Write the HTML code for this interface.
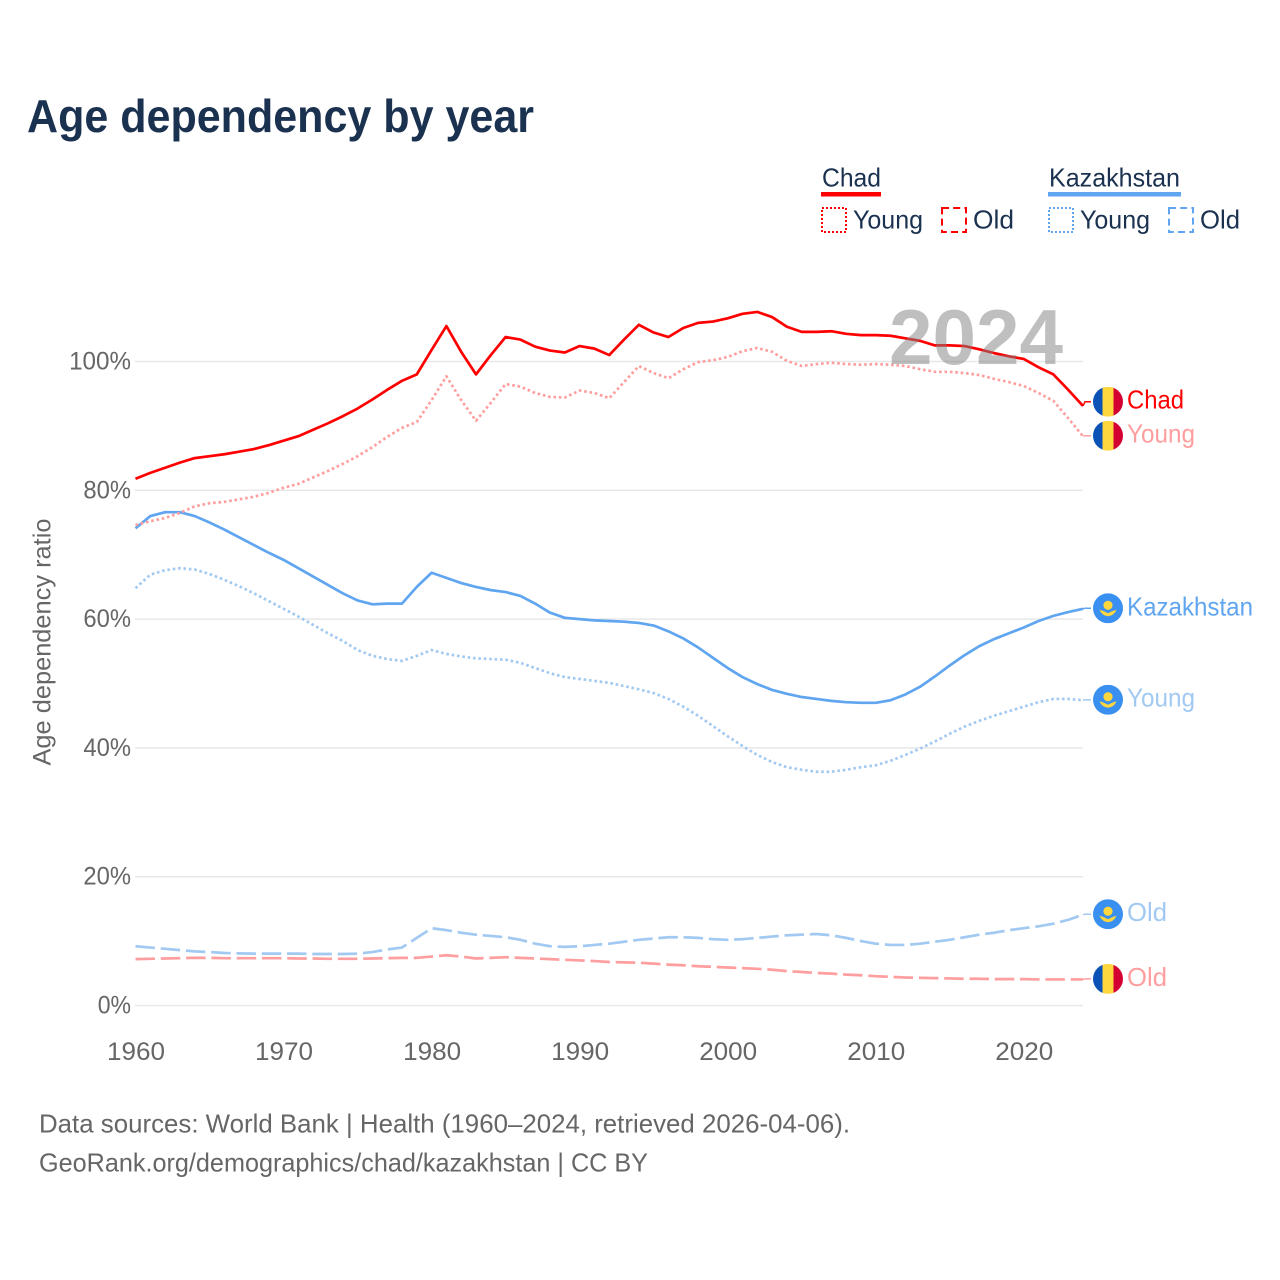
<!DOCTYPE html>
<html lang="en">
<head>
<meta charset="utf-8">
<title>Age dependency by year</title>
<style>
html,body{margin:0;padding:0;background:#fff;}
svg{display:block;}
text{font-family:"Liberation Sans",sans-serif;}
</style>
</head>
<body>
<svg id="chart" width="1280" height="1280" viewBox="0 0 1280 1280" xmlns="http://www.w3.org/2000/svg">
  <rect width="1280" height="1280" fill="#fff"/>
  <text x="27" y="132" font-size="46" font-weight="700" fill="#1a3150" textLength="507" lengthAdjust="spacingAndGlyphs">Age dependency by year</text>

  <g font-size="26" fill="#1a3150">
    <text x="822" y="186.5" textLength="59" lengthAdjust="spacingAndGlyphs">Chad</text>
    <rect x="821" y="192" width="60" height="4.5" fill="#ff0000"/>
    <rect x="822" y="208" width="24" height="24" fill="none" stroke="#ff0000" stroke-width="2" stroke-dasharray="2 2"/>
    <text x="853" y="228.5" textLength="70" lengthAdjust="spacingAndGlyphs">Young</text>
    <rect x="942" y="208" width="24" height="24" fill="none" stroke="#ff0000" stroke-width="2" stroke-dasharray="7 4.2"/>
    <text x="973" y="228.5" textLength="41" lengthAdjust="spacingAndGlyphs">Old</text>

    <text x="1049" y="186.5" textLength="131" lengthAdjust="spacingAndGlyphs">Kazakhstan</text>
    <rect x="1048" y="192" width="133" height="4.5" fill="#60a5f0"/>
    <rect x="1049" y="208" width="24" height="24" fill="none" stroke="#60a5f0" stroke-width="2" stroke-dasharray="2 2"/>
    <text x="1080" y="228.5" textLength="70" lengthAdjust="spacingAndGlyphs">Young</text>
    <rect x="1169" y="208" width="24" height="24" fill="none" stroke="#60a5f0" stroke-width="2" stroke-dasharray="7 4.2"/>
    <text x="1200" y="228.5" textLength="40" lengthAdjust="spacingAndGlyphs">Old</text>
  </g>

  <g id="grid"></g>
  <g id="yticks"></g>
  <g id="xticks"></g>
  <text transform="translate(50.5 642) rotate(-90)" text-anchor="middle" font-size="25" fill="#666" textLength="247" lengthAdjust="spacingAndGlyphs">Age dependency ratio</text>

  <g id="lines"></g>
  <g id="labels"></g>

  <text id="year" x="889" y="364" font-size="78" font-weight="700" fill="#808080" opacity="0.5" textLength="174" lengthAdjust="spacingAndGlyphs">2024</text>

  <g font-size="26" fill="#666">
    <text x="39" y="1132.5" textLength="811" lengthAdjust="spacingAndGlyphs">Data sources: World Bank | Health (1960–2024, retrieved 2026-04-06).</text>
    <text x="39" y="1171.5" textLength="609" lengthAdjust="spacingAndGlyphs">GeoRank.org/demographics/chad/kazakhstan | CC BY</text>
  </g>
</svg>
<script>
const startYear = 1960;
const endYear = 2024;
const xTickYears = [1960, 1970, 1980, 1990, 2000, 2010, 2020];
const yTickValues = [0, 20, 40, 60, 80, 100];

const chadTotal = [81.8,82.7,83.5,84.3,85.0,85.3,85.6,86.0,86.4,87.0,87.7,88.4,89.4,90.4,91.5,92.7,94.1,95.6,97.0,98.0,101.8,105.5,101.5,98.0,101.0,103.8,103.4,102.3,101.7,101.4,102.4,102.0,101.0,103.4,105.7,104.5,103.8,105.2,106.0,106.2,106.7,107.4,107.7,106.9,105.4,104.6,104.6,104.7,104.3,104.1,104.1,104.0,103.6,103.2,102.5,102.5,102.4,101.9,101.3,100.8,100.4,99.1,98.0,95.6,93.1];
const chadYoung = [74.6,75.2,75.7,76.5,77.5,78.0,78.2,78.6,79.0,79.6,80.4,81.0,82.0,83.0,84.1,85.3,86.7,88.3,89.7,90.6,94.0,97.7,94.0,90.8,93.6,96.5,96.1,95.1,94.5,94.4,95.5,95.1,94.3,96.8,99.3,98.2,97.4,98.8,99.9,100.2,100.7,101.6,102.1,101.5,100.1,99.3,99.6,99.8,99.6,99.5,99.6,99.5,99.3,98.8,98.4,98.4,98.2,97.9,97.3,96.8,96.2,95.1,93.9,91.2,88.4];
const chadOld = [7.2,7.25,7.3,7.35,7.4,7.4,7.35,7.35,7.35,7.35,7.35,7.3,7.3,7.25,7.25,7.25,7.3,7.35,7.4,7.4,7.6,7.8,7.6,7.3,7.4,7.5,7.4,7.3,7.2,7.1,7.0,6.9,6.75,6.7,6.65,6.5,6.35,6.25,6.1,6.0,5.9,5.8,5.7,5.55,5.35,5.2,5.05,4.95,4.8,4.7,4.55,4.45,4.35,4.3,4.25,4.2,4.15,4.15,4.1,4.1,4.1,4.05,4.05,4.05,4.05];
const kazakhstanTotal = [74.1,76.0,76.6,76.6,76.0,75.0,73.9,72.7,71.5,70.3,69.2,67.9,66.6,65.3,64.0,62.9,62.3,62.4,62.4,65.0,67.2,66.4,65.6,65.0,64.5,64.2,63.6,62.4,61.0,60.2,60.0,59.8,59.7,59.6,59.4,59.0,58.1,57.0,55.6,54.0,52.4,51.0,49.9,49.0,48.4,47.9,47.6,47.3,47.1,47.0,47.0,47.4,48.3,49.5,51.1,52.8,54.4,55.8,56.9,57.8,58.7,59.7,60.5,61.1,61.6];
const kazakhstanYoung = [64.8,66.9,67.6,67.9,67.7,67.0,66.1,65.1,64.0,62.8,61.6,60.4,59.1,57.8,56.6,55.2,54.3,53.8,53.5,54.3,55.2,54.6,54.2,53.9,53.8,53.7,53.2,52.4,51.6,51.0,50.7,50.4,50.1,49.6,49.1,48.5,47.6,46.4,45.0,43.4,41.8,40.3,38.9,37.8,37.0,36.6,36.3,36.3,36.6,37.0,37.3,38.0,38.9,39.9,41.0,42.2,43.3,44.2,45.0,45.7,46.4,47.1,47.6,47.6,47.4];
const kazakhstanOld = [9.2,9.0,8.8,8.6,8.4,8.3,8.15,8.1,8.05,8.05,8.05,8.05,8.0,8.0,8.0,8.05,8.3,8.7,9.0,10.5,12.0,11.7,11.3,11.0,10.8,10.6,10.2,9.6,9.2,9.1,9.2,9.4,9.6,9.9,10.2,10.4,10.6,10.6,10.5,10.3,10.2,10.3,10.5,10.7,10.9,11.0,11.1,10.9,10.5,10.0,9.6,9.4,9.4,9.6,9.9,10.2,10.6,11.0,11.3,11.7,12.0,12.3,12.7,13.3,14.1];

const NS = 'http://www.w3.org/2000/svg';
function xScale(year) { return 135.5 + (year - startYear) * (1083 - 135.5) / (endYear - startYear); }
function yScale(value) { return 1005.5 - value * 6.44; }
function make(tag, attrs, parent) {
  const el = document.createElementNS(NS, tag);
  for (const k in attrs) el.setAttribute(k, attrs[k]);
  parent.appendChild(el);
  return el;
}

const gridGroup = document.getElementById('grid');
const yGroup = document.getElementById('yticks');
const xGroup = document.getElementById('xticks');
yTickValues.forEach(function (v) {
  const line = make('line', {x1: 135, x2: 1083, y1: yScale(v), y2: yScale(v), stroke: '#e8e8e8', 'stroke-width': 1.5}, gridGroup);
  
  
  const label = v + '%';
  const t = make('text', {x: 131, y: yScale(v) + 8, 'text-anchor': 'end', 'font-size': 25, fill: '#666', textLength: (label.length - 1) * 14.3 + 19, lengthAdjust: 'spacingAndGlyphs'}, yGroup);
  t.textContent = label;
  
  
});
xTickYears.forEach(function (y) {
  const t = make('text', {x: xScale(y) + 0.5, y: 1060, 'text-anchor': 'middle', 'font-size': 25, fill: '#666', textLength: 58, lengthAdjust: 'spacingAndGlyphs'}, xGroup);
  t.textContent = String(y);
  
  
});

const seriesList = [
  {key: 'chad-old', values: chadOld, color: '#ff9e9e', dash: '19.5 5.8', label: 'Old', width: 40, flag: 'chad'},
  {key: 'kazakhstan-old', values: kazakhstanOld, color: '#a2c9f2', dash: '19.5 5.8', label: 'Old', width: 40, flag: 'kaz'},
  {key: 'kazakhstan-young', values: kazakhstanYoung, color: '#a2c9f2', dash: '2.6 2.8', label: 'Young', width: 68, flag: 'kaz'},
  {key: 'kazakhstan-total', values: kazakhstanTotal, color: '#60a5f0', dash: '', label: 'Kazakhstan', width: 126, flag: 'kaz'},
  {key: 'chad-young', values: chadYoung, color: '#ff9e9e', dash: '2.6 2.8', label: 'Young', width: 68, flag: 'chad'},
  {key: 'chad-total', values: chadTotal, color: '#ff0000', dash: '', label: 'Chad', width: 57, flag: 'chad'}
];

const linesGroup = document.getElementById('lines');
const labelsGroup = document.getElementById('labels');

seriesList.forEach(function (s) {
  const pts = s.values.map(function (v, i) { return xScale(startYear + i).toFixed(2) + ',' + yScale(v).toFixed(2); }).join(' ');
  const attrs = {points: pts, fill: 'none', stroke: s.color, 'stroke-width': 2.7, 'stroke-linejoin': 'round'};
  if (s.dash) attrs['stroke-dasharray'] = s.dash;
  const line = make('polyline', attrs, linesGroup);
  
  
  s.endY = yScale(s.values[s.values.length - 1]);
  s.labelY = s.endY - 0.5;
});

/* dodge end labels: keep a minimum gap by pushing the upper label upward */
const sorted = seriesList.slice().sort(function (a, b) { return b.labelY - a.labelY; });
for (let i = 1; i < sorted.length; i++) {
  if (sorted[i - 1].labelY - sorted[i].labelY < 34) sorted[i].labelY = sorted[i - 1].labelY - 34;
}

let clipCount = 0;
function drawFlag(kind, cy, parent) {
  const cx = 1108, r = 15;
  const id = 'flag-clip-' + (clipCount++);
  const defs = make('defs', {}, parent);
  const cp = make('clipPath', {id: id}, defs);
  make('circle', {cx: cx, cy: cy, r: r}, cp);
  const g = make('g', {'clip-path': 'url(#' + id + ')'}, parent);
  
  
  if (kind === 'chad') {
    make('rect', {x: cx - r, y: cy - r, width: 10, height: 2 * r, fill: '#0a52b5'}, g);
    make('rect', {x: cx - 5.5, y: cy - r, width: 11, height: 2 * r, fill: '#fed73e'}, g);
    make('rect', {x: cx + 5.5, y: cy - r, width: 10, height: 2 * r, fill: '#d50032'}, g);
  } else {
    make('rect', {x: cx - r, y: cy - r, width: 2 * r, height: 2 * r, fill: '#3a90f0'}, g);
    make('circle', {cx: cx, cy: cy - 3, r: 4.6, fill: '#fed73e'}, g);
    make('path', {d: 'M' + (cx - 8.5) + ' ' + (cy + 1.5) + ' Q' + (cx - 4) + ' ' + (cy + 2.5) + ' ' + cx + ' ' + (cy + 5) + ' Q' + (cx + 4) + ' ' + (cy + 2.5) + ' ' + (cx + 8.5) + ' ' + (cy + 1.5) + ' Q' + (cx + 6) + ' ' + (cy + 7.5) + ' ' + cx + ' ' + (cy + 8) + ' Q' + (cx - 6) + ' ' + (cy + 7.5) + ' ' + (cx - 8.5) + ' ' + (cy + 1.5) + 'Z', fill: '#fed73e'}, g);
  }
}

seriesList.forEach(function (s) {
  const c = make('polyline', {points: '1083,' + s.endY.toFixed(2) + ' 1085,' + s.labelY.toFixed(2) + ' 1091,' + s.labelY.toFixed(2), fill: 'none', stroke: s.color, 'stroke-width': 1.5}, labelsGroup);
  
  
  drawFlag(s.flag, s.labelY, labelsGroup);
  const t = make('text', {x: 1127, y: s.labelY + 7, 'font-size': 26, fill: s.color, textLength: s.width, lengthAdjust: 'spacingAndGlyphs'}, labelsGroup);
  t.textContent = s.label;
  
  
});
</script>
</body>
</html>
